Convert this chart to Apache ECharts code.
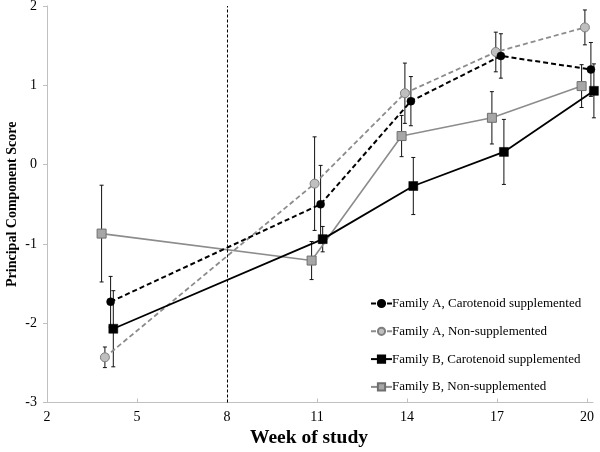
<!DOCTYPE html>
<html>
<head>
<meta charset="utf-8">
<script src="https://cdn.jsdelivr.net/npm/echarts@6/dist/echarts.min.js"></script>
<style>html,body{margin:0;padding:0;background:#fff}#c{width:600px;height:452px}</style>
</head>
<body>
<div id="c"></div>
<script>
// ---- data ----
const seriesNames = [
  'Family A, Carotenoid supplemented',
  'Family A, Non-supplemented',
  'Family B, Carotenoid supplemented',
  'Family B, Non-supplemented'
];
const xTicks = [2, 5, 8, 11, 14, 17, 20];
const yTicks = [-3, -2, -1, 0, 1, 2];
const treatmentWeek = 8;

const xAcar = [4.12, 11.12, 14.13, 17.13, 20.13];
const yAcar = [-1.73, -0.50, 0.80, 1.37, 1.20];
const eAcar = [0.32, 0.49, 0.31, 0.28, 0.34];

const xAnon = [3.93, 10.92, 13.93, 16.96, 19.93];
const yAnon = [-2.43, -0.24, 0.90, 1.42, 1.73];
const eAnon = [0.13, 0.59, 0.38, 0.25, 0.22];

const xBcar = [4.21, 11.19, 14.21, 17.23, 20.23];
const yBcar = [-2.07, -0.94, -0.27, 0.16, 0.93];
const eBcar = [0.48, 0.16, 0.36, 0.41, 0.34];

const xBnon = [3.82, 10.82, 13.82, 16.83, 19.82];
const yBnon = [-0.87, -1.21, 0.36, 0.59, 0.99];
const eBnon = [0.61, 0.24, 0.26, 0.33, 0.27];

// ---- build ----
const pts = (xs, ys) => xs.map((x, i) => [x, ys[i]]);
const errs = (xs, ys, es) => xs.map((x, i) => [x, ys[i] - es[i], ys[i] + es[i]]);

const allErr = [].concat(
  errs(xAcar, yAcar, eAcar), errs(xAnon, yAnon, eAnon),
  errs(xBcar, yBcar, eBcar), errs(xBnon, yBnon, eBnon)
);

const FONT = "'Liberation Serif', 'Times New Roman', serif";
const chart = echarts.init(document.getElementById('c'), null, {renderer: 'canvas'});

function errRender(params, api) {
  const x = api.value(0);
  const lo = api.coord([x, api.value(1)]);
  const hi = api.coord([x, api.value(2)]);
  const cw = 2;
  const st = {stroke: '#111', lineWidth: 1};
  return {
    type: 'group',
    children: [
      {type: 'line', shape: {x1: lo[0], y1: lo[1], x2: hi[0], y2: hi[1]}, style: st},
      {type: 'line', shape: {x1: lo[0] - cw, y1: lo[1], x2: lo[0] + cw, y2: lo[1]}, style: st},
      {type: 'line', shape: {x1: hi[0] - cw, y1: hi[1], x2: hi[0] + cw, y2: hi[1]}, style: st}
    ]
  };
}

const option = {
  animation: false,
  backgroundColor: '#fff',
  grid: {left: 47, right: 7, top: 6, bottom: 49.5, containLabel: false, outerBoundsMode: 'none'},
  legend: {
    orient: 'vertical',
    left: 365,
    top: 292,
    itemWidth: 21,
    itemHeight: 9,
    itemGap: 14.8,
    data: seriesNames,
    textStyle: {fontFamily: FONT, fontSize: 13, color: '#000', padding: [0, 0, 0, -5]}
  },
  xAxis: {
    type: 'value',
    min: 2,
    max: 20.2,
    interval: 3,
    name: 'Week of study',
    nameLocation: 'middle',
    nameGap: 25,
    nameMoveOverlap: false,
    nameTextStyle: {fontFamily: FONT, fontSize: 19.5, fontWeight: 'bold', color: '#000', padding: [0, 22, 0, 0]},
    axisLine: {onZero: false, lineStyle: {color: '#c0c0c0', width: 1}},
    axisTick: {show: true, inside: true, length: 4, lineStyle: {color: '#c0c0c0'}, customValues: xTicks},
    axisLabel: {fontFamily: FONT, fontSize: 14, color: '#000', margin: 8, customValues: xTicks},
    splitLine: {show: false}
  },
  yAxis: {
    type: 'value',
    min: -3,
    max: 2,
    interval: 1,
    name: 'Principal Component Score',
    nameLocation: 'middle',
    nameGap: 28,
    nameMoveOverlap: false,
    nameTextStyle: {fontFamily: FONT, fontSize: 14, fontWeight: 'bold', color: '#000'},
    axisLine: {show: true, onZero: false, lineStyle: {color: '#c0c0c0', width: 1}},
    axisTick: {show: true, length: 4, lineStyle: {color: '#c0c0c0'}},
    axisLabel: {fontFamily: FONT, fontSize: 14, color: '#000', margin: 10},
    splitLine: {show: false}
  },
  series: [
    {
      type: 'custom',
      name: 'errors',
      renderItem: errRender,
      data: allErr,
      z: 1,
      clip: false,
      silent: true,
      markLine: {
        silent: true,
        symbol: ['none', 'none'],
        label: {show: false},
        lineStyle: {color: '#000', type: [3, 2], width: 1},
        data: [{xAxis: treatmentWeek}]
      }
    },
    {
      name: seriesNames[0], type: 'line', data: pts(xAcar, yAcar), z: 3, clip: false,
      symbol: 'circle', symbolSize: 8,
      lineStyle: {color: '#000', width: 2, type: [5, 3]},
      itemStyle: {color: '#000', borderColor: '#000', borderWidth: 0.5}
    },
    {
      name: seriesNames[1], type: 'line', data: pts(xAnon, yAnon), z: 2, clip: false,
      symbol: 'circle', symbolSize: 9,
      lineStyle: {color: '#8c8c8c', width: 1.8, type: [5, 3]},
      itemStyle: {color: '#bfbfbf', borderColor: '#7f7f7f', borderWidth: 1}
    },
    {
      name: seriesNames[2], type: 'line', data: pts(xBcar, yBcar), z: 3, clip: false,
      symbol: 'rect', symbolSize: 9,
      lineStyle: {color: '#000', width: 1.8, type: 'solid'},
      itemStyle: {color: '#000', borderColor: '#000', borderWidth: 0.5}
    },
    {
      name: seriesNames[3], type: 'line', data: pts(xBnon, yBnon), z: 2, clip: false,
      symbol: 'rect', symbolSize: 9,
      lineStyle: {color: '#8c8c8c', width: 1.6, type: 'solid'},
      itemStyle: {color: '#a6a6a6', borderColor: '#6f6f6f', borderWidth: 1}
    }
  ]
};
chart.setOption(option);
</script>
</body>
</html>
